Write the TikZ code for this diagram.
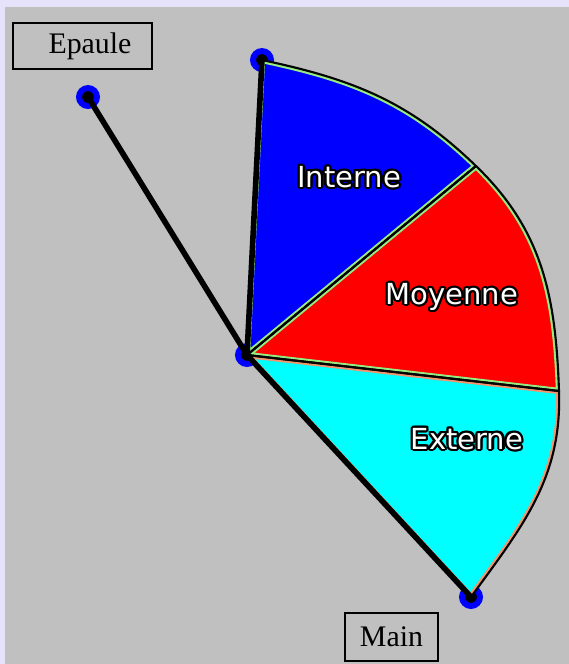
\documentclass[tikz,border=0pt]{standalone}
\usepackage{fontspec}
\setmainfont{Liberation Serif}
\newfontfamily\zonefont{DejaVu Sans}
\usepackage{contour}
\contourlength{1.2pt}
\usetikzlibrary{positioning}

\definecolor{lavender}{RGB}{230,226,250}
\definecolor{panelgrey}{RGB}{192,192,192}
\definecolor{rimgreen}{RGB}{150,235,130}
\definecolor{rimsalmon}{RGB}{240,150,110}
\definecolor{aqua}{RGB}{0,255,255}

\tikzset{
  joint/.style={circle, fill=black, draw=blue, line width=3.4pt, inner sep=0pt, minimum size=10.2pt},
  limb/.style={line width=3.2pt, line cap=round},
  rim/.style={line width=3.6pt},
  edge/.style={black, line width=1.2pt, line join=round},
  namebox/.style={draw, line width=1.1pt, font=\fontsize{17}{20}\selectfont, inner sep=0pt},
  zone/.style={font=\zonefont\fontsize{16.5}{20}\selectfont, text=white}
}

\begin{document}
\begin{tikzpicture}[x=0.02cm, y=-0.02cm]
\useasboundingbox (0,0) rectangle (569,664);
\fill[lavender] (0,0) rectangle (569,664);
\fill[panelgrey] (5,7) rectangle (569,664);

% joints
\node[joint] (S) at (88,97) {};
\node[joint] (T) at (262,60) {};
\node[joint] (E) at (247,355) {};
\node[joint] (H) at (471,597) {};
\coordinate (A) at (476,166);
\coordinate (B) at (559,391);

% the three sectors
\def\interne{(E.center) -- (T.center) to[out=-12, in=136] (A) -- cycle}
\def\moyenne{(E.center) -- (A) to[out=-44, in=92] (B) -- cycle}
\def\externe{(E.center) -- (B) to[out=-88, in=54] (H.center) -- cycle}

\fill[blue] \interne;
\fill[red] \moyenne;
\fill[aqua] \externe;

\begin{scope}
\clip \interne;
\draw[rim, rimgreen] \interne;
\end{scope}
\begin{scope}
\clip \moyenne;
\draw[rim, rimgreen] \moyenne;
\end{scope}
\begin{scope}
\clip \externe;
\draw[rim, rimsalmon] \externe;
\end{scope}

\draw[edge] \interne;
\draw[edge] \moyenne;
\draw[edge] \externe;

% arm
\draw[limb] (S.center) -- (E.center);
\draw[limb] (E.center) -- (T.center);
\draw[limb] (E.center) -- (H.center);

\node[zone] (interne) at (349,178) {\contour{black}{Interne}};
\node[zone] (moyenne) at (452,298) {\contour{black}{Moyenne}};
\node[zone] (externe) at (467,440) {\contour{black}{Externe}};

\node[namebox, minimum width=2.78cm, minimum height=0.92cm] (epaule) at (82.5,46) {\hspace{0.3cm}Epaule};
\node[namebox, minimum width=1.86cm, minimum height=0.96cm] (main) at (391.5,637) {Main};

\end{tikzpicture}
\end{document}
